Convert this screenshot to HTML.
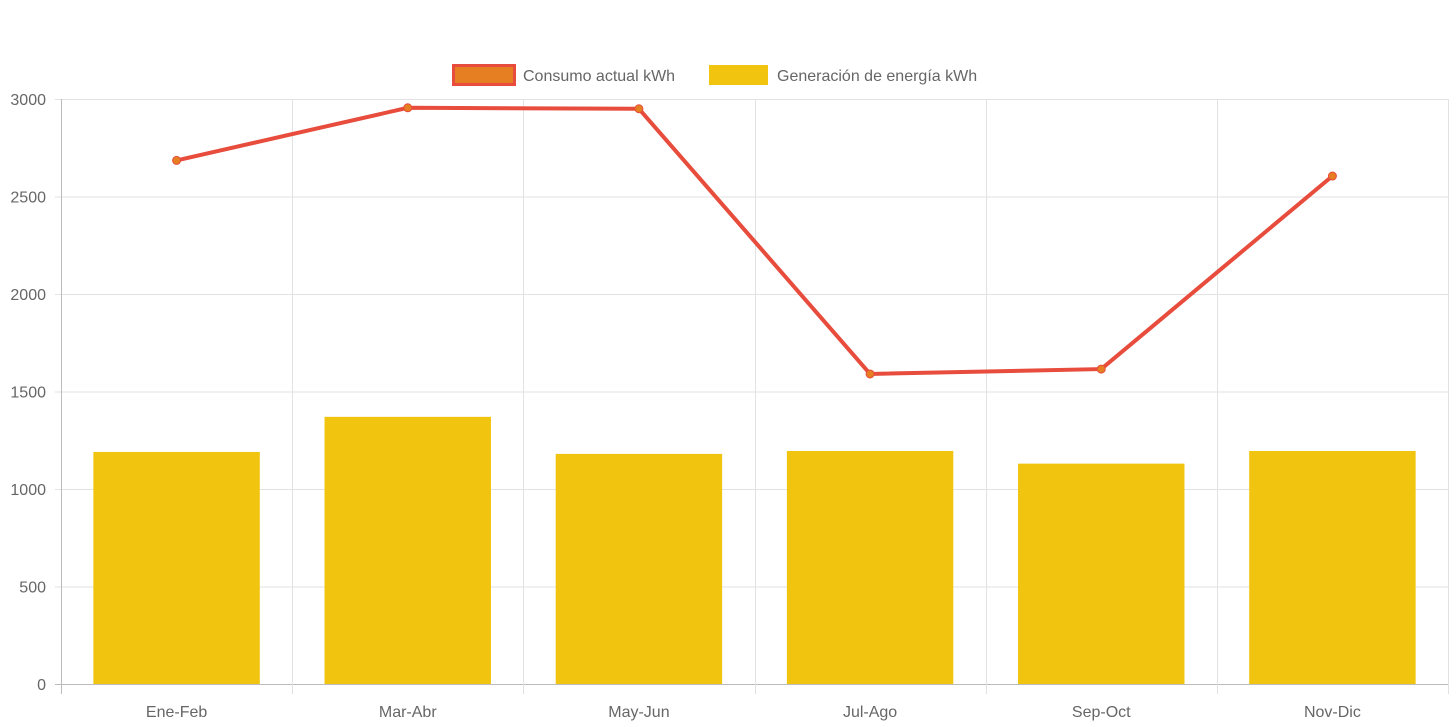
<!DOCTYPE html>
<html><head><meta charset="utf-8"><style>
body{margin:0;background:#fff;font-family:"Liberation Sans",sans-serif;}
svg{display:block}
</style></head><body>
<svg id="chart" width="1456" height="727" xmlns="http://www.w3.org/2000/svg">
<g id="grid"></g>
<g id="bars"></g>
<g id="line"></g>
<g id="axes"></g>
<g>
<g>
<rect x="453.5" y="65.5" width="61" height="19" fill="#e67e22" stroke="#e74c3c" stroke-width="3"/>
<text x="523" y="81" font-size="16" fill="#666">Consumo actual kWh</text></g>
<g>
<rect x="709" y="65" width="59" height="20" fill="#f1c40f"/>
<text x="777" y="81" font-size="16" fill="#666">Generación de energía kWh</text></g>
</g>
</svg>
<script>
const categories=["Ene-Feb","Mar-Abr","May-Jun","Jul-Ago","Sep-Oct","Nov-Dic"];
const consumo=[2685,2955,2950,1590,1615,2605];
const generacion=[1190,1370,1180,1195,1130,1195];
const yTicks=[0,500,1000,1500,2000,2500,3000];
const NS="http://www.w3.org/2000/svg";
const L=61,R=1448,T=99,B=684,yMax=3000;
const bw=(R-L)/categories.length;
const x=i=>L+bw*(i+0.5);
const y=v=>B-(v/yMax)*(B-T);
function mk(tag,attrs,parent){const e=document.createElementNS(NS,tag);for(const k in attrs)e.setAttribute(k,attrs[k]);parent.appendChild(e);return e;}
const grid=document.getElementById('grid'),axes=document.getElementById('axes'),bars=document.getElementById('bars'),line=document.getElementById('line');
yTicks.forEach(t=>{
 const g=mk('line',{x1:L-6,x2:R,y1:y(t)+0.5,y2:y(t)+0.5,stroke:t===0?'#bbb':'#e2e2e2','stroke-width':1},grid);
 
 
 const tx=mk('text',{x:L-15,y:y(t)+6,'text-anchor':'end','font-size':16,fill:'#666'},axes);
 tx.textContent=t;
 
 
});
for(let i=0;i<=categories.length;i++){
 const gx=Math.round(L+bw*i)+0.5;
 const g=mk('line',{x1:gx,x2:gx,y1:T,y2:B+10,stroke:i===0?'#bbb':'#e2e2e2','stroke-width':1},grid);
 
 
}
categories.forEach((c,i)=>{
 const tx=mk('text',{x:x(i),y:717,'text-anchor':'middle','font-size':16,fill:'#666'},axes);
 tx.textContent=c;
 
 
 const w=bw*0.72;
 const b=mk('rect',{x:x(i)-w/2,y:y(generacion[i]),width:w,height:B-y(generacion[i]),fill:'#f1c40f'},bars);
 
 
});
const p=mk('polyline',{points:consumo.map((v,i)=>x(i)+','+y(v)).join(' '),fill:'none',stroke:'#e74c3c','stroke-width':4},line);


consumo.forEach((v,i)=>{
 const c=mk('circle',{cx:x(i),cy:y(v),r:4,fill:'#e67e22',stroke:'#e74c3c','stroke-width':1},line);
 
 
});
</script>
</body></html>
